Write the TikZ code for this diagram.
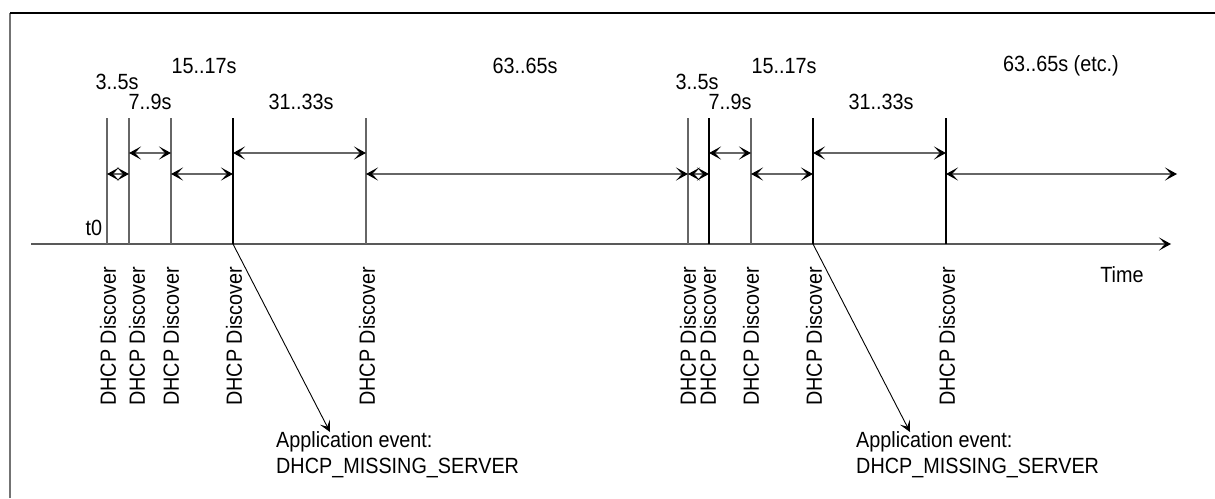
\documentclass[tikz,border=0pt]{standalone}
\usepackage{fontspec}
\setmainfont[FakeStretch=0.9]{Liberation Sans}
\usetikzlibrary{arrows.meta}
\begin{document}
\begin{tikzpicture}[x=1pt,y=-1pt,
  every node/.style={inner sep=0pt, font=\fontsize{22}{26}\selectfont},
  tickgray/.style={draw=black!60, line width=1.2pt},
  tickblack/.style={draw=black, line width=1.2pt},
  barb/.tip={Stealth[length=12pt,width=13pt,inset=6pt,color=black]},
  dimarrow/.style={draw=black!60, line width=1.3pt, {barb}-{barb}},
  axisline/.style={draw=black!65, line width=1.3pt, -{barb}},
  evarrow/.style={draw=black, line width=0.9pt, -{Stealth[length=11pt,width=11pt,inset=5pt]}},
  disc/.style={rotate=90, anchor=east},
  lbl/.style={anchor=center}]
\useasboundingbox (0,0) rectangle (1215,498);
% frame
\coordinate (fbl) at (10,498);
\coordinate (ftl) at (10,13);
\coordinate (ftr) at (1215,13);
\draw[draw=black!55, line width=2pt] (fbl) -- (ftl);
\draw[draw=black, line width=1.3pt] (ftl) -- (ftr);
% axis
\coordinate (ax0) at (31,244);
\coordinate (ax1) at (1171,244);
\draw[axisline] (ax0) -- (ax1);
% ticks
\coordinate (atop) at (107,118); \coordinate (abot) at (107,244);
\coordinate (btop) at (129,118); \coordinate (bbot) at (129,244);
\coordinate (ctop) at (171,118); \coordinate (cbot) at (171,244);
\coordinate (dtop) at (233,118); \coordinate (dbot) at (233,244);
\coordinate (etop) at (366,118); \coordinate (ebot) at (366,244);
\coordinate (ftop) at (688,118); \coordinate (fbot) at (688,244);
\coordinate (gtop) at (709,118); \coordinate (gbot) at (709,244);
\coordinate (htop) at (751,118); \coordinate (hbot) at (751,244);
\coordinate (itop) at (813,118); \coordinate (ibot) at (813,244);
\coordinate (jtop) at (946,118); \coordinate (jbot) at (946,244);
\draw[tickgray] (atop) -- (abot);
\draw[tickgray] (btop) -- (bbot);
\draw[tickgray] (ctop) -- (cbot);
\draw[tickblack] (dtop) -- (dbot);
\draw[tickgray] (etop) -- (ebot);
\draw[tickgray] (ftop) -- (fbot);
\draw[tickblack] (gtop) -- (gbot);
\draw[tickgray] (htop) -- (hbot);
\draw[tickblack] (itop) -- (ibot);
\draw[tickblack] (jtop) -- (jbot);
% arrow end points
\coordinate (alo) at (107,174);
\coordinate (bhi) at (129,153); \coordinate (blo) at (129,174);
\coordinate (chi) at (171,153); \coordinate (clo) at (171,174);
\coordinate (dhi) at (233,153); \coordinate (dlo) at (233,174);
\coordinate (ehi) at (366,153); \coordinate (elo) at (366,174);
\coordinate (flo) at (688,174);
\coordinate (ghi) at (709,153); \coordinate (glo) at (709,174);
\coordinate (hhi) at (751,153); \coordinate (hlo) at (751,174);
\coordinate (ihi) at (813,153); \coordinate (ilo) at (813,174);
\coordinate (jhi) at (946,153); \coordinate (jlo) at (946,174);
\coordinate (klo) at (1177,174);
% interval arrows
\draw[dimarrow] (alo) -- (blo);
\draw[dimarrow] (bhi) -- (chi);
\draw[dimarrow] (clo) -- (dlo);
\draw[dimarrow] (dhi) -- (ehi);
\draw[dimarrow] (elo) -- (flo);
\draw[dimarrow] (flo) -- (glo);
\draw[dimarrow] (ghi) -- (hhi);
\draw[dimarrow] (hlo) -- (ilo);
\draw[dimarrow] (ihi) -- (jhi);
\draw[dimarrow] (jlo) -- (klo);
% interval labels
\node[lbl] (l1) at (117,82) {3..5s};
\node[lbl] (l2) at (150,102) {7..9s};
\node[lbl] (l3) at (204,66) {15..17s};
\node[lbl] (l4) at (301,102) {31..33s};
\node[lbl] (l5) at (525,66) {63..65s};
\node[lbl] (l6) at (697,82) {3..5s};
\node[lbl] (l7) at (730,102) {7..9s};
\node[lbl] (l8) at (784,66) {15..17s};
\node[lbl] (l9) at (881,102) {31..33s};
\node[lbl] (l10) at (1061,66) {63..65s (etc.)};
\node[lbl] (t0) at (94,228) {t0};
\node[lbl] (time) at (1122,275) {Time};
% discover labels
\node[disc] (da) at (108,267) {DHCP Discover};
\node[disc] (db) at (137,267) {DHCP Discover};
\node[disc] (dc) at (171,267) {DHCP Discover};
\node[disc] (dd) at (234,267) {DHCP Discover};
\node[disc] (de) at (367,267) {DHCP Discover};
\node[disc] (df) at (688,267) {DHCP Discover};
\node[disc] (dg) at (708,267) {DHCP Discover};
\node[disc] (dh) at (751,267) {DHCP Discover};
\node[disc] (di) at (814,267) {DHCP Discover};
\node[disc] (dj) at (947,267) {DHCP Discover};
% application events
\node[anchor=west, align=left] (ev1) at (276,455) {Application event:\\DHCP\_MISSING\_SERVER};
\node[anchor=west, align=left] (ev2) at (856,455) {Application event:\\DHCP\_MISSING\_SERVER};
\coordinate (ev1tip) at (330,432);
\coordinate (ev2tip) at (910,432);
\draw[evarrow] (dbot) -- (ev1tip);
\draw[evarrow] (ibot) -- (ev2tip);
\end{tikzpicture}
\end{document}
